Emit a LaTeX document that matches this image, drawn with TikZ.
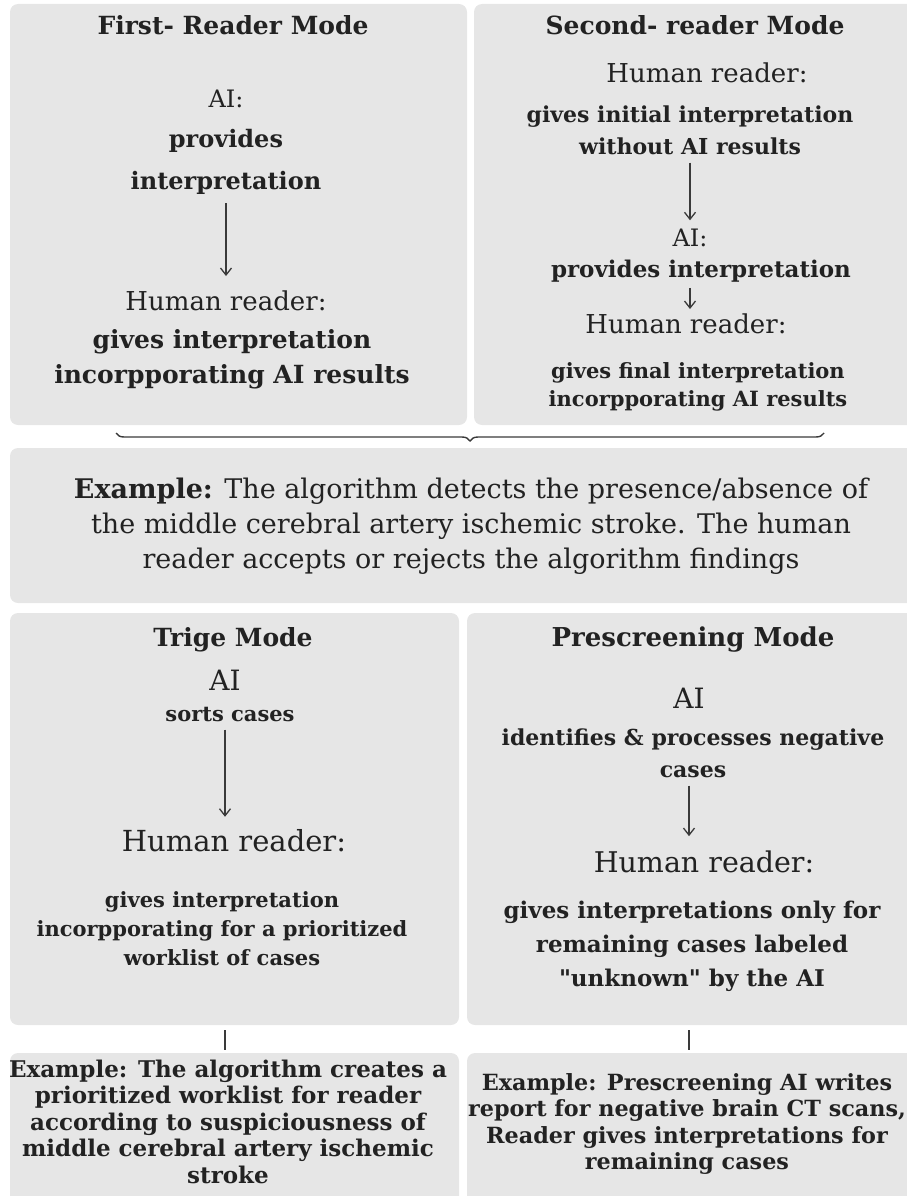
\documentclass[tikz,border=0pt]{standalone}
\usepackage{fontspec}
\setmainfont{DejaVu Serif}
\usepackage{xcolor}
\usepackage{tikz}
\usetikzlibrary{arrows.meta,decorations.pathreplacing,positioning}
\definecolor{panelgray}{HTML}{E6E6E6}
\definecolor{inkgray}{HTML}{222222}
\definecolor{linegray}{HTML}{3A3A3A}
\newcommand{\fsz}[2]{\fontsize{#1}{#2}\selectfont}

\begin{document}
\begin{tikzpicture}[x=1pt,y=-1pt,
  panel/.style={fill=panelgray,rounded corners=8pt,inner sep=0pt,outer sep=0pt,anchor=north west},
  tx/.style={text=inkgray,inner sep=2pt,align=center,anchor=base},
  rgs/.style 2 args={tx,font=\fsz{#1}{#2}},
  bfs/.style 2 args={tx,font=\fsz{#1}{#2}\bfseries},
  flow/.style={draw=linegray,line width=1.3pt,-{Straight Barb[length=7pt,width=11pt]}},
  link/.style={draw=linegray,line width=1.3pt}]
  \useasboundingbox (0,0) rectangle (907,1196);
  \clip (0,0) rectangle (907,1196);
  % 灰色底板
  \node[panel,minimum width=457,minimum height=421] (tlBox) at (10,4) {};
  \node[panel,minimum width=445,minimum height=421] (trBox) at (474,4) {};
  \node[panel,minimum width=905,minimum height=155] (exBox) at (10,448) {};
  \node[panel,minimum width=449,minimum height=412] (blBox) at (10,613) {};
  \node[panel,minimum width=450,minimum height=412] (brBox) at (467,613) {};
  \node[panel,minimum width=449,minimum height=160] (blEx) at (10,1053) {};
  \node[panel,minimum width=450,minimum height=160] (brEx) at (467,1053) {};
  % First- Reader Mode（多行节点按最后一行基线定位）
  \node[bfs={25}{30}] (tlTitle) at (233,35) {First- Reader Mode};
  \node[rgs={24}{30}] (tlAI) at (226,108) {AI:};
  \node[bfs={24}{42}] (tlDo) at (226,189) {provides\\interpretation};
  \node[rgs={26}{30}] (tlHR) at (226,310) {Human reader:};
  \node[bfs={25}{35}] (tlRes) at (232,383) {gives interpretation\\incorpporating AI results};
  \draw[flow,shorten <=7pt,shorten >=12pt] (tlDo.south) -- (tlDo.south |- tlHR.north);
  % Second- reader Mode
  \node[bfs={25}{30}] (trTitle) at (695,35) {Second- reader Mode};
  \node[rgs={26}{30}] (trHR) at (707,83) {Human reader:};
  \node[bfs={22}{32}] (trWo) at (690,154) {gives initial interpretation\\without AI results};
  \node[rgs={24}{30}] (trAI) at (690,246) {AI:};
  \node[bfs={23}{30}] (trDo) at (701,277) {provides interpretation};
  \node[rgs={26}{30}] (trHR2) at (686,333) {Human reader:};
  \node[bfs={21}{28}] (trRes) at (698,406) {gives final interpretation\\incorpporating AI results};
  \draw[flow,shorten <=6pt,shorten >=6pt] (trWo.south) -- (trWo.south |- trAI.north);
  \draw[flow,shorten <=4pt,shorten >=2pt] (trAI.south |- trDo.south) -- (trAI.south |- trHR2.north);
  % 大括号
  \draw[draw=linegray,line width=1.4pt,decorate,decoration={brace,amplitude=8pt}] (824,433) -- (116,433);
  \node[rgs={27}{35}] (exTxt) at (471,568) {\textbf{Example:} The algorithm detects the presence/absence of\\the middle cerebral artery ischemic stroke. The human\\reader accepts or rejects the algorithm findings};
  % Trige Mode
  \node[bfs={25}{30}] (blTitle) at (233,646) {Trige Mode};
  \node[rgs={28}{30}] (blAI) at (225,690) {AI};
  \node[bfs={21}{28}] (blDo) at (230,721) {sorts cases};
  \node[rgs={29}{32}] (blHR) at (234,851) {Human reader:};
  \node[bfs={21}{29}] (blRes) at (222,965) {gives interpretation\\incorpporating for a prioritized\\worklist of cases};
  \draw[flow,shorten <=6pt,shorten >=10pt] (blAI.south |- blDo.south) -- (blAI.south |- blHR.north);
  % Prescreening Mode
  \node[bfs={26}{30}] (brTitle) at (693,646) {Prescreening Mode};
  \node[rgs={28}{30}] (brAI) at (689,708) {AI};
  \node[bfs={22}{32}] (brDo) at (693,777) {identifies \& processes negative\\cases};
  \node[rgs={28.5}{32}] (brHR) at (704,872) {Human reader:};
  \node[bfs={23}{34}] (brRes) at (692,986) {gives interpretations only for\\remaining cases labeled\\\textquotedbl unknown\textquotedbl{} by the AI};
  \draw[flow,shorten <=6pt,shorten >=12pt] (brAI.south |- brDo.south) -- (brAI.south |- brHR.north);
  % 下方示例
  \node[bfs={23}{26.5}] (blExTxt) at (228,1183) {Example: The algorithm creates a\\prioritized worklist for reader\\according to suspiciousness of\\middle cerebral artery ischemic\\stroke};
  \node[bfs={22.3}{26.5}] (brExTxt) at (687,1169.5) {Example: Prescreening AI writes\\report for negative brain CT scans,\\Reader gives interpretations for\\remaining cases};
  \draw[link,shorten <=5pt,shorten >=3pt] (blBox.south -| blAI) -- (blEx.north -| blAI);
  \draw[link,shorten <=5pt,shorten >=3pt] (brBox.south -| brAI) -- (brEx.north -| brAI);
\end{tikzpicture}
\end{document}
